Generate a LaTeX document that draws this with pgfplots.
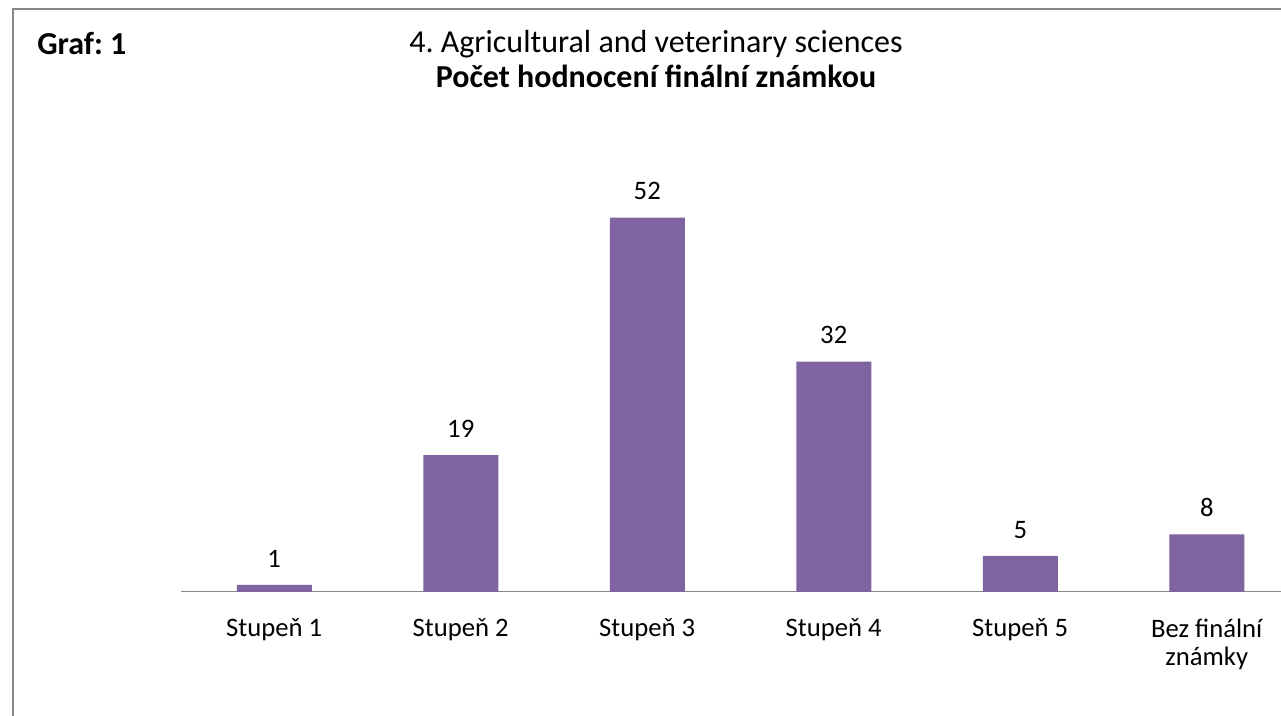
\documentclass[border=0pt]{standalone}
\usepackage{pgfplots}
\pgfplotsset{compat=1.18}
\usepackage{fontspec}
\setmainfont{Carlito}
\frenchspacing
\definecolor{barc}{HTML}{8064A2}
\definecolor{linec}{HTML}{878787}
\begin{document}
\begin{tikzpicture}[x=0.75pt,y=0.75pt]
\path[use as bounding box] (0,0) rectangle (1281,716);
\clip (0,0) rectangle (1281,716);
\fill[white] (0,0) rectangle (1281,716);
\draw[linec,line width=1.5pt] (13,-5) -- (13,706.5) -- (1290,706.5);
\node[font=\fontsize{24}{26}\selectfont\bfseries,anchor=west,inner sep=0pt] at (37,672) {Graf: 1};
\node[font=\fontsize{24}{26}\selectfont,inner sep=0pt] at (656,672) {4. Agricultural and veterinary sciences};
\node[font=\fontsize{24}{26}\selectfont\bfseries,inner sep=0pt] at (656,640) {Počet hodnocení finální známkou};
\begin{axis}[
  at={(135.75pt,93pt)}, anchor=south west,
  scale only axis, width=839.25pt, height=324pt,
  xmin=-0.5, xmax=5.5, ymin=0, ymax=60,
  axis x line*=bottom, axis y line=none,
  x axis line style={-, linec, line width=0.75pt},
  xtick=data, major tick length=0pt,
  xticklabels={Stupeň 1,Stupeň 2,Stupeň 3,Stupeň 4,Stupeň 5,{Bez finální\\známky}},
  xticklabel style={font=\fontsize{20}{21}\selectfont, align=center, anchor=north, inner sep=0pt, yshift=-20pt},
  ybar, bar width=56.25pt,
  nodes near coords,
  /pgf/number format/assume math mode=true,
  nodes near coords style={font=\fontsize{20}{22}\selectfont, anchor=south, inner sep=0pt, yshift=13pt},
  clip=false,
]
\addplot[fill=barc, draw=none] coordinates {(0,1) (1,19) (2,52) (3,32) (4,5) (5,8)};
\end{axis}
\end{tikzpicture}
\end{document}
